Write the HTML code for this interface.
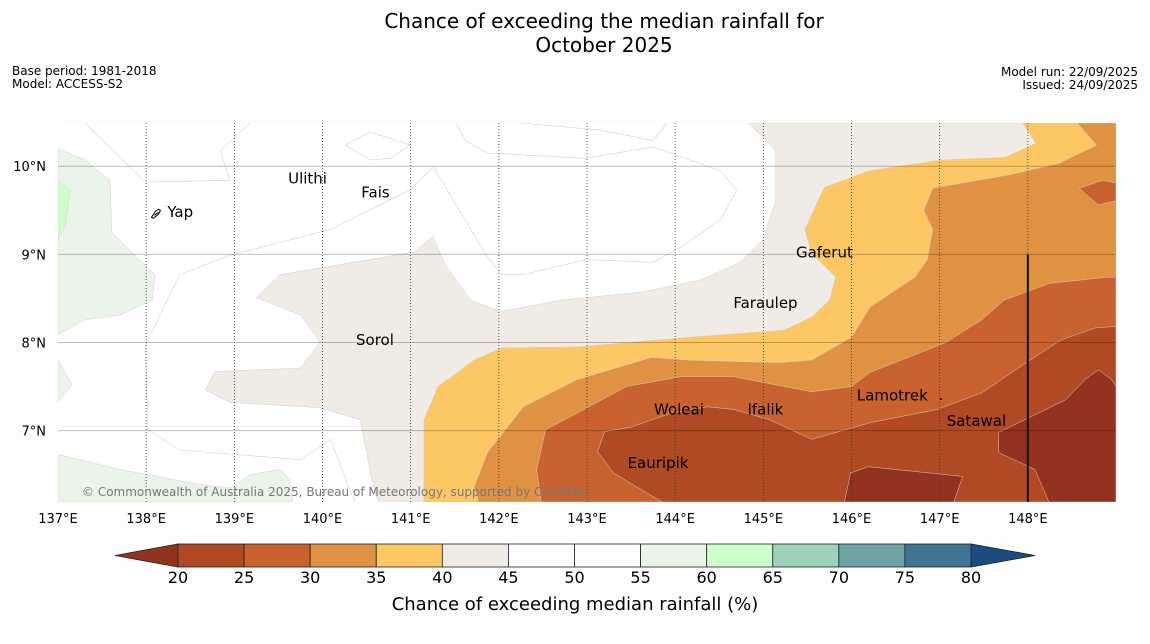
<!DOCTYPE html>
<html><head><meta charset="utf-8"><style>
body{margin:0;background:#fdfdfd;font-family:"DejaVu Sans","Liberation Sans",sans-serif;}
svg{display:block;font-family:"DejaVu Sans","Liberation Sans",sans-serif;}
</style></head><body>
<svg id="root" width="1150" height="644" xmlns="http://www.w3.org/2000/svg">
<rect width="1150" height="644" fill="#fdfdfd"/>
<text x="604" y="28" text-anchor="middle" font-size="20">Chance of exceeding the median rainfall for</text>
<text x="604" y="52" text-anchor="middle" font-size="20">October 2025</text>
<text x="12" y="75" font-size="12">Base period: 1981-2018</text>
<text x="12" y="88" font-size="12">Model: ACCESS-S2</text>
<text x="1138" y="76" font-size="12" text-anchor="end">Model run: 22/09/2025</text>
<text x="1138" y="89" font-size="12" text-anchor="end">Issued: 24/09/2025</text>
<g id="map"></g>
<g id="cbar"></g>
</svg>
<script>
const NS="http://www.w3.org/2000/svg";
const lonMin=137, lonMax=149.0, latMin=6.19, latMax=10.49;
const mapX0=58, mapX1=1116, mapY0=123, mapY1=502;
const lonTicks=[137,138,139,140,141,142,143,144,145,146,147,148];
const latTicks=[7,8,9,10];
const bins=[20,25,30,35,40,45,50,55,60,65,70,75,80];
const binColors=["#b14a24","#c9622f","#df9242","#fdc864","#f0ebe5","#ffffff","#ffffff","#eaf5e9","#ccffcc","#9dd1b8","#6da3a3","#3f7494"];
const underColor="#93321e", overColor="#1a4c7d";
const regBeige=[[144.83,10.49],[145.14,10.18],[145.14,9.61],[144.99,9.16],[144.74,8.91],[144.29,8.71],[143.61,8.57],[142.70,8.48],[142.02,8.35],[141.68,8.48],[141.39,8.88],[141.25,9.21],[141.05,9.03],[140.65,8.96],[139.52,8.77],[139.25,8.51],[139.75,8.31],[139.97,8.01],[139.75,7.71],[138.78,7.67],[138.67,7.46],[138.95,7.32],[139.97,7.26],[140.43,7.12],[140.56,6.44],[140.63,6.19],[149,6.19],[149,10.49]];
const regYellow=[[147.94,10.49],[148.09,10.26],[147.74,10.10],[147.02,10.07],[146.21,9.95],[145.69,9.76],[145.59,9.54],[145.47,9.28],[145.55,9.01],[145.82,8.74],[145.75,8.48],[145.55,8.29],[145.24,8.14],[144.16,8.06],[142.89,7.95],[142.03,7.94],[141.72,7.80],[141.31,7.50],[141.15,7.12],[141.15,6.19],[149,6.19],[149,10.49]];
const regOrange=[[148.56,10.49],[148.78,10.24],[148.35,10.03],[147.78,9.90],[146.92,9.75],[146.82,9.50],[146.92,9.28],[146.86,8.94],[146.72,8.74],[146.21,8.40],[146.00,8.06],[145.55,7.80],[145.18,7.77],[144.16,7.80],[143.73,7.83],[142.89,7.58],[142.28,7.27],[141.87,6.75],[141.72,6.36],[141.77,6.19],[149,6.19],[149,10.49]];
const regRed=[[149,8.74],[148.90,8.74],[148.24,8.67],[147.73,8.48],[147.48,8.26],[147.07,8.00],[146.21,7.66],[146.00,7.50],[145.55,7.44],[144.67,7.61],[144.06,7.61],[143.45,7.50],[142.89,7.20],[142.53,7.01],[142.43,6.56],[142.48,6.19],[149,6.19]];
const regRedBlob=[[148.58,9.75],[148.85,9.84],[149,9.81],[149,9.61],[148.80,9.56]];
const regBrown=[[149,8.18],[148.78,8.17],[148.38,8.03],[147.98,7.77],[147.48,7.43],[146.97,7.24],[146.21,7.09],[145.55,6.90],[145.08,7.12],[144.67,7.24],[144.37,7.27],[143.96,7.20],[143.50,7.04],[143.20,6.99],[143.12,6.76],[143.30,6.52],[143.75,6.25],[143.86,6.19],[149,6.19]];
const regDark1=[[148.80,7.69],[148.95,7.58],[149,7.50],[149,6.19],[148.24,6.19],[148.08,6.56],[147.67,6.75],[147.67,6.98],[148.43,7.35],[148.65,7.58]];
const regDark2=[[145.99,6.52],[146.19,6.59],[147.26,6.48],[147.16,6.19],[145.92,6.19]];
const regGreen1=[[137,10.20],[137.31,10.07],[137.59,9.84],[137.61,9.25],[137.87,8.99],[138.10,8.77],[138.07,8.48],[137.70,8.31],[137.31,8.26],[137,8.09]];
const regGreen2=[[137,6.73],[137.70,6.56],[138.61,6.39],[138.95,6.35],[139.18,6.50],[139.52,6.56],[139.63,6.44],[139.66,6.19],[137,6.19]];
const regGreen3=[[137,7.80],[137.16,7.52],[137,7.33]];
const regLime=[[137,9.84],[137.14,9.73],[137.08,9.33],[137,9.16]];
const line1=[[137.31,10.49],[137.99,9.82],[138.95,9.84],[138.84,10.18],[139.18,10.49]];
const line2=[[140.26,10.24],[140.54,10.39],[140.99,10.24],[140.77,10.09],[140.54,10.07],[140.26,10.24]];
const line3=[[142.24,10.49],[143.15,10.41],[143.75,10.29],[143.91,10.49]];
const line4=[[141.51,10.49],[141.62,10.29],[141.87,10.15],[142.99,10.09],[143.75,10.22],[144.51,9.95],[144.70,9.73],[144.51,9.39],[144.06,9.08],[143.75,8.91],[142.99,8.94],[142.28,8.77],[142.03,8.77],[141.87,8.97],[141.26,9.99],[140.99,9.73],[140.09,9.28],[138.95,8.99],[138.38,8.77],[137.99,7.97],[138.02,7.01],[138.38,6.78],[139.75,6.67],[140.09,6.90],[140.31,6.33],[140.37,6.19]];
const places=[["Yap",138.24,9.48],["Ulithi",139.61,9.86],["Fais",140.44,9.70],["Gaferut",145.37,9.02],["Faraulep",144.66,8.45],["Sorol",140.38,8.03],["Woleai",143.76,7.24],["Ifalik",144.82,7.24],["Lamotrek",146.06,7.40],["Satawal",147.08,7.11],["Eauripik",143.46,6.63]];

const sx=lon=>mapX0+(lon-lonMin)/(lonMax-lonMin)*(mapX1-mapX0);
const sy=lat=>mapY0+(latMax-lat)/(latMax-latMin)*(mapY1-mapY0);
const map=document.getElementById('map');
function mk(tag,attrs,parent){const e=document.createElementNS(NS,tag);for(const k in attrs)e.setAttribute(k,attrs[k]);(parent||map).appendChild(e);return e;}
const pts=a=>a.map(p=>sx(p[0]).toFixed(1)+","+sy(p[1]).toFixed(1)).join(" ");

const clip=mk('clipPath',{id:'mclip'});mk('rect',{x:mapX0,y:mapY0,width:mapX1-mapX0,height:mapY1-mapY0},clip);
const g=mk('g',{'clip-path':'url(#mclip)'});


const bg=mk('rect',{x:mapX0,y:mapY0,width:mapX1-mapX0,height:mapY1-mapY0,fill:'#ffffff'},g);


const regions=[[regGreen1,binColors[7],'region-55-60-west'],[regGreen2,binColors[7],'region-55-60-southwest'],[regGreen3,binColors[7],'region-55-60-small'],[regLime,binColors[8],'region-60-65'],[regBeige,binColors[4],'region-40-45'],[regYellow,binColors[3],'region-35-40'],[regOrange,binColors[2],'region-30-35'],[regRed,binColors[1],'region-25-30'],[regRedBlob,binColors[1],'region-25-30-blob'],[regBrown,binColors[0],'region-20-25'],[regDark1,underColor,'region-below-20-east'],[regDark2,underColor,'region-below-20-south']];
for(const r of regions){const p=mk('polygon',{points:pts(r[0]),fill:r[1],stroke:'#cfcfcf','stroke-width':0.5},g);

}
for(const l of [line1,line2,line3,line4]){const p=mk('polyline',{points:pts(l),fill:'none',stroke:'#d0d0d0','stroke-width':0.6},g);

}
for(const lat of latTicks){const y=sy(lat);const l=mk('line',{x1:mapX0,x2:mapX1,y1:y,y2:y,stroke:'#000','stroke-opacity':0.25,'stroke-width':1},g);


const t=mk('text',{x:mapX0-12,y:y+5,'text-anchor':'end','font-size':13});t.textContent=lat+"°N";

}
for(const lon of lonTicks){const x=sx(lon);if(lon>lonMin){const l=mk('line',{x1:x,x2:x,y1:mapY0,y2:mapY1,stroke:'#333','stroke-width':0.8,'stroke-dasharray':'1,2'},g);

}
const t=mk('text',{x:x,y:523,'text-anchor':'middle','font-size':13});t.textContent=lon+"°E";

}
const vl=mk('line',{x1:sx(148),x2:sx(148),y1:sy(9),y2:mapY1,stroke:'#111','stroke-width':2},g);


const yap=mk('path',{d:`M${sx(138.06)},${sy(9.42)} l4,-6 l3,-2 l2,1 l-2,4 l-5,4 z M${sx(138.06)+3},${sy(9.42)-2} l4,-3`,fill:'none',stroke:'#000','stroke-width':1},g);


for(const p of places){const t=mk('text',{x:sx(p[1]),y:sy(p[2])+5,'font-size':15},g);t.textContent=p[0];

}
const dot=mk('circle',{cx:941,cy:399,r:1,fill:'#000'},g);


const cr=mk('text',{x:82,y:496,'font-size':12,fill:'#777'},g);cr.textContent="© Commonwealth of Australia 2025, Bureau of Meteorology, supported by COSPPac";



const cb=document.getElementById('cbar');
const cbX0=178,cbX1=971,cbY0=544,cbY1=567;
const cx=v=>cbX0+(v-bins[0])/(bins[bins.length-1]-bins[0])*(cbX1-cbX0);
const tl=mk('polygon',{points:`${cbX0},${cbY0} ${cbX0},${cbY1} 115,${(cbY0+cbY1)/2}`,fill:underColor,stroke:'#222','stroke-width':0.8},cb);


const tr=mk('polygon',{points:`${cbX1},${cbY0} ${cbX1},${cbY1} 1035,${(cbY0+cbY1)/2}`,fill:overColor,stroke:'#222','stroke-width':0.8},cb);


for(let i=0;i<binColors.length;i++){const r=mk('rect',{x:cx(bins[i]),y:cbY0,width:cx(bins[i+1])-cx(bins[i]),height:cbY1-cbY0,fill:binColors[i],stroke:'#222','stroke-width':0.8},cb);

}
for(const b of bins){const t=mk('text',{x:cx(b),y:583,'text-anchor':'middle','font-size':16},cb);t.textContent=b;

}
const ct=mk('text',{x:575,y:610,'text-anchor':'middle','font-size':18},cb);ct.textContent="Chance of exceeding median rainfall (%)";


</script>
</body></html>
